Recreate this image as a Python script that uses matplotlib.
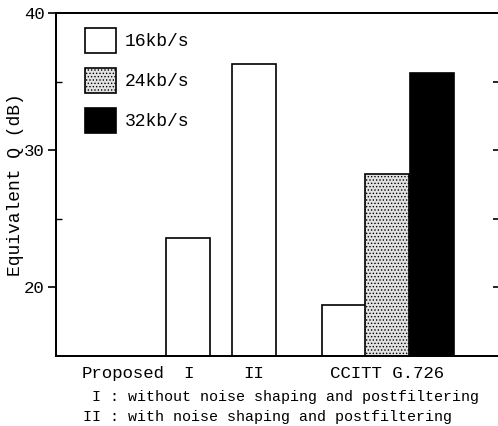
import matplotlib
matplotlib.use("Agg")
import matplotlib.pyplot as plt
from matplotlib.ticker import FixedLocator

plt.rcParams['font.family'] = ['Liberation Mono', 'DejaVu Sans Mono']
plt.rcParams['hatch.linewidth'] = 0.6

# data
positions = [3.0, 4.5, 6.55, 7.52, 8.55]
values = [23.6, 36.3, 18.7, 28.3, 35.6]
rates = ['16kb/s', '16kb/s', '16kb/s', '24kb/s', '32kb/s']
tick_pos = [1.52, 3.0, 4.5, 7.52]
tick_labels = ['Proposed', 'I', 'II', 'CCITT G.726']
legend_labels = ['16kb/s', '24kb/s', '32kb/s']
notes = [' I : without noise shaping and postfiltering',
         'II : with noise shaping and postfiltering']

styles = {
    '16kb/s': dict(facecolor='white', hatch=None),
    '24kb/s': dict(facecolor='#e2e2e2', hatch='.....'),
    '32kb/s': dict(facecolor='black', hatch=None),
}

W, H = 498, 426
fig = plt.figure(figsize=(W / 100, H / 100), dpi=100)
ax = fig.add_axes([56 / W, (H - 356) / H, (500 - 56) / W, (356 - 13) / H])

ymin = 15
handles = {}
for x, v, r in zip(positions, values, rates):
    st = styles[r]
    b = ax.bar(x, v - ymin, bottom=ymin, width=1.0, facecolor=st['facecolor'],
               edgecolor='black', hatch=st['hatch'], linewidth=1.2)
    handles.setdefault(r, b[0])

ax.set_xlim(0, (500 - 56) / 44)
ax.set_ylim(ymin, 40)

ax.set_xticks(tick_pos)
ax.set_xticklabels(tick_labels, fontsize=12.5)
ax.tick_params(axis='x', length=0, pad=7)

ax.set_yticks([20, 30, 40])
ax.tick_params(axis='y', labelsize=12.5, direction='out', length=6, width=1.2, pad=2)
ax.yaxis.set_minor_locator(FixedLocator([25, 35]))
ax.tick_params(axis='y', which='minor', direction='in', length=4, width=1.0)
ax.set_ylabel('Equivalent Q (dB)', fontsize=13, labelpad=0)

# right-hand inward ticks
axr = ax.twinx()
axr.set_ylim(ymin, 40)
axr.set_yticks([20, 25, 30, 35])
axr.tick_params(axis='y', direction='in', length=5, width=1.2, labelright=False)

for a in (ax, axr):
    for s in a.spines.values():
        s.set_linewidth(1.3)

leg = ax.legend([handles[l] for l in legend_labels], legend_labels,
                loc='upper left', bbox_to_anchor=(0.065, 0.957),
                frameon=False, fontsize=13, handlelength=1.7, handleheight=1.8,
                labelspacing=0.8, handletextpad=0.5, borderpad=0, borderaxespad=0)

for i, t in enumerate(notes):
    fig.text(83 / W, 1 - (397 + 20 * i) / H, t, fontsize=10.8, va='center', ha='left')

fig.savefig('out.png', dpi=100)
